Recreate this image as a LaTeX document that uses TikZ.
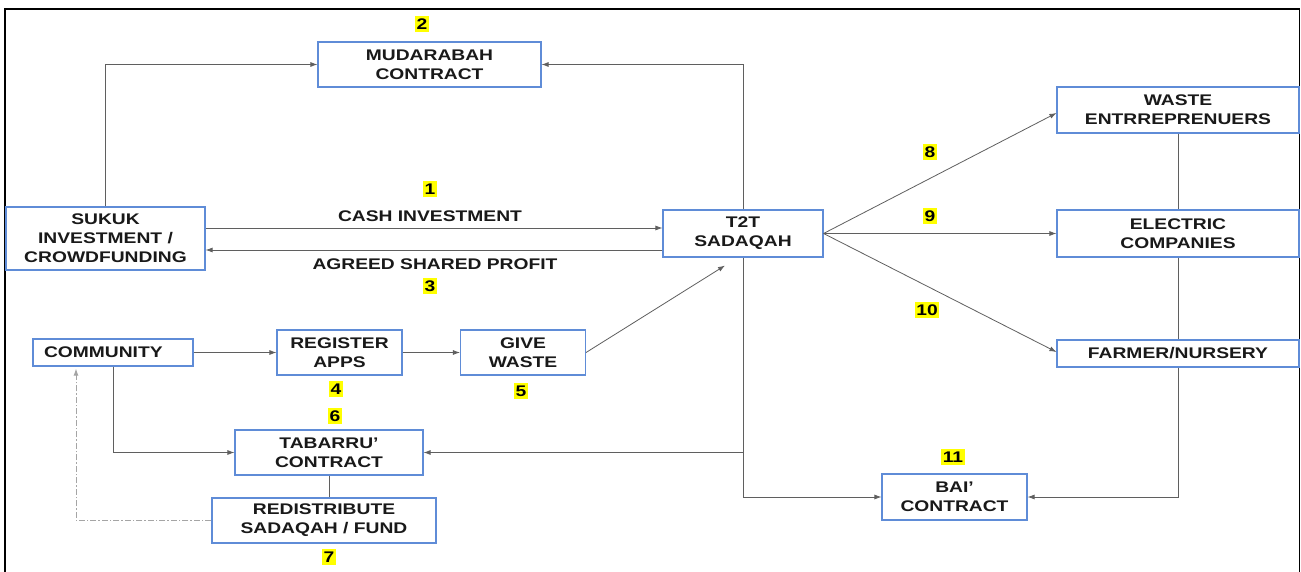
\documentclass[tikz,border=0pt]{standalone}
\usepackage{fontspec}
\setmainfont{Liberation Sans}[FakeStretch=1.25]
\usetikzlibrary{arrows.meta}
\definecolor{boxblue}{RGB}{95,140,215}
\definecolor{linegray}{RGB}{95,95,95}
\definecolor{ddgray}{RGB}{165,165,165}
\definecolor{hl}{RGB}{255,255,0}
\definecolor{txt}{RGB}{25,25,25}
\begin{document}
\begin{tikzpicture}[x=1pt,y=-1pt,
  box/.style={draw=boxblue,line width=1.1pt,fill=white,inner sep=0pt,align=center,text=txt,
    font=\bfseries\fontsize{15.4}{19}\selectfont},
  lbl/.style={text=txt,inner sep=0pt,font=\bfseries\fontsize{15.4}{19}\selectfont},
  num/.style={fill=hl,text=black,inner xsep=1.5pt,inner ysep=2.5pt,font=\bfseries\fontsize{15.4}{19}\selectfont},
  conn/.style={draw=linegray,line width=0.8pt},
  arr/.style={conn,-{Latex[length=7pt,width=5pt]}},
  dd/.style={draw=ddgray,line width=1pt,dash pattern=on 6pt off 2pt on 1.5pt off 2pt,-{Latex[length=7pt,width=5pt]}}]
\useasboundingbox (0,0) rectangle (1301,572);
\fill[white] (0,0) rectangle (1301,572);
\draw[black,line width=1.6pt] (5,580) -- (5,9) -- (1299.5,9) -- (1299.5,580);

% boxes
\node[box,minimum width=223pt,minimum height=45pt] (mud) at (429.5,64.5) {MUDARABAH\\CONTRACT};
\node[box,minimum width=199pt,minimum height=63pt] (sukuk) at (105.5,238.5) {SUKUK\\INVESTMENT /\\CROWDFUNDING};
\node[box,minimum width=160pt,minimum height=47pt] (t2t) at (743,233.5) {T2T\\SADAQAH};
\node[box,minimum width=242pt,minimum height=46pt] (waste) at (1178,110) {WASTE\\ENTRREPRENUERS};
\node[box,minimum width=242pt,minimum height=47pt] (elec) at (1178,233.5) {ELECTRIC\\COMPANIES};
\node[box,minimum width=242pt,minimum height=27pt] (farmer) at (1178,353.5) {FARMER/NURSERY};
\node[box,minimum width=145pt,minimum height=46pt] (bai) at (954.5,497) {BAI’\\CONTRACT};
\node[box,text width=138pt,align=left,inner xsep=11pt,minimum height=27pt] (comm) at (113,352.5) {COMMUNITY};
\node[box,minimum width=125pt,minimum height=45pt] (reg) at (339.5,352.5) {REGISTER\\APPS};
\node[box,minimum width=125pt,minimum height=45pt] (give) at (523,352.5) {GIVE\\WASTE};
\node[box,minimum width=188pt,minimum height=45pt] (tab) at (329,452.5) {TABARRU’\\CONTRACT};
\node[box,minimum width=224pt,minimum height=45pt] (redis) at (324,520.5) {REDISTRIBUTE\\SADAQAH / FUND};

% connectors
\draw[arr] (sukuk.north) |- (mud.west);
\draw[arr] (t2t.north) |- (mud.east);
\draw[arr] (sukuk.east |- 0,228) -- (t2t.west |- 0,228);
\draw[arr] (t2t.west |- 0,250) -- (sukuk.east |- 0,250);
\draw[arr] (t2t.south) |- (bai.west);
\draw[arr] (t2t.south |- tab.east) -- (tab.east);
\draw[arr] (t2t.east) -- ([yshift=-3pt]waste.west);
\draw[arr] (t2t.east) -- (elec.west);
\draw[arr] (t2t.east) -- ([yshift=1.5pt]farmer.west);
\draw[conn] (waste.south) -- (elec.north);
\draw[conn] (elec.south) -- (farmer.north);
\draw[arr] (farmer.south) |- (bai.east);
\draw[arr] (comm.east) -- (reg.west);
\draw[arr] (reg.east) -- (give.west);
\draw[arr] (give.east) -- ([xshift=-18pt,yshift=-8pt]t2t.south);
\draw[arr] (comm.south) |- (tab.west);
\draw[conn] (tab.south) -- (tab.south |- redis.north);
\draw[dd] (redis.west) -| ([xshift=-37pt,yshift=-2pt]comm.south);

% labels
\node[lbl] (lcash) at (430,216.5) {CASH INVESTMENT};
\node[lbl] (lprofit) at (435,264) {AGREED SHARED PROFIT};
\node[num] (n1) at (430,189) {1};
\node[num] (n2) at (422,24) {2};
\node[num] (n3) at (430,286) {3};
\node[num] (n4) at (336,389) {4};
\node[num] (n5) at (521,391) {5};
\node[num] (n6) at (335,416) {6};
\node[num] (n7) at (329,557) {7};
\node[num] (n8) at (930,152) {8};
\node[num] (n9) at (930,216) {9};
\node[num] (n10) at (927,310) {10};
\node[num] (n11) at (953,457) {11};
\end{tikzpicture}
\end{document}
